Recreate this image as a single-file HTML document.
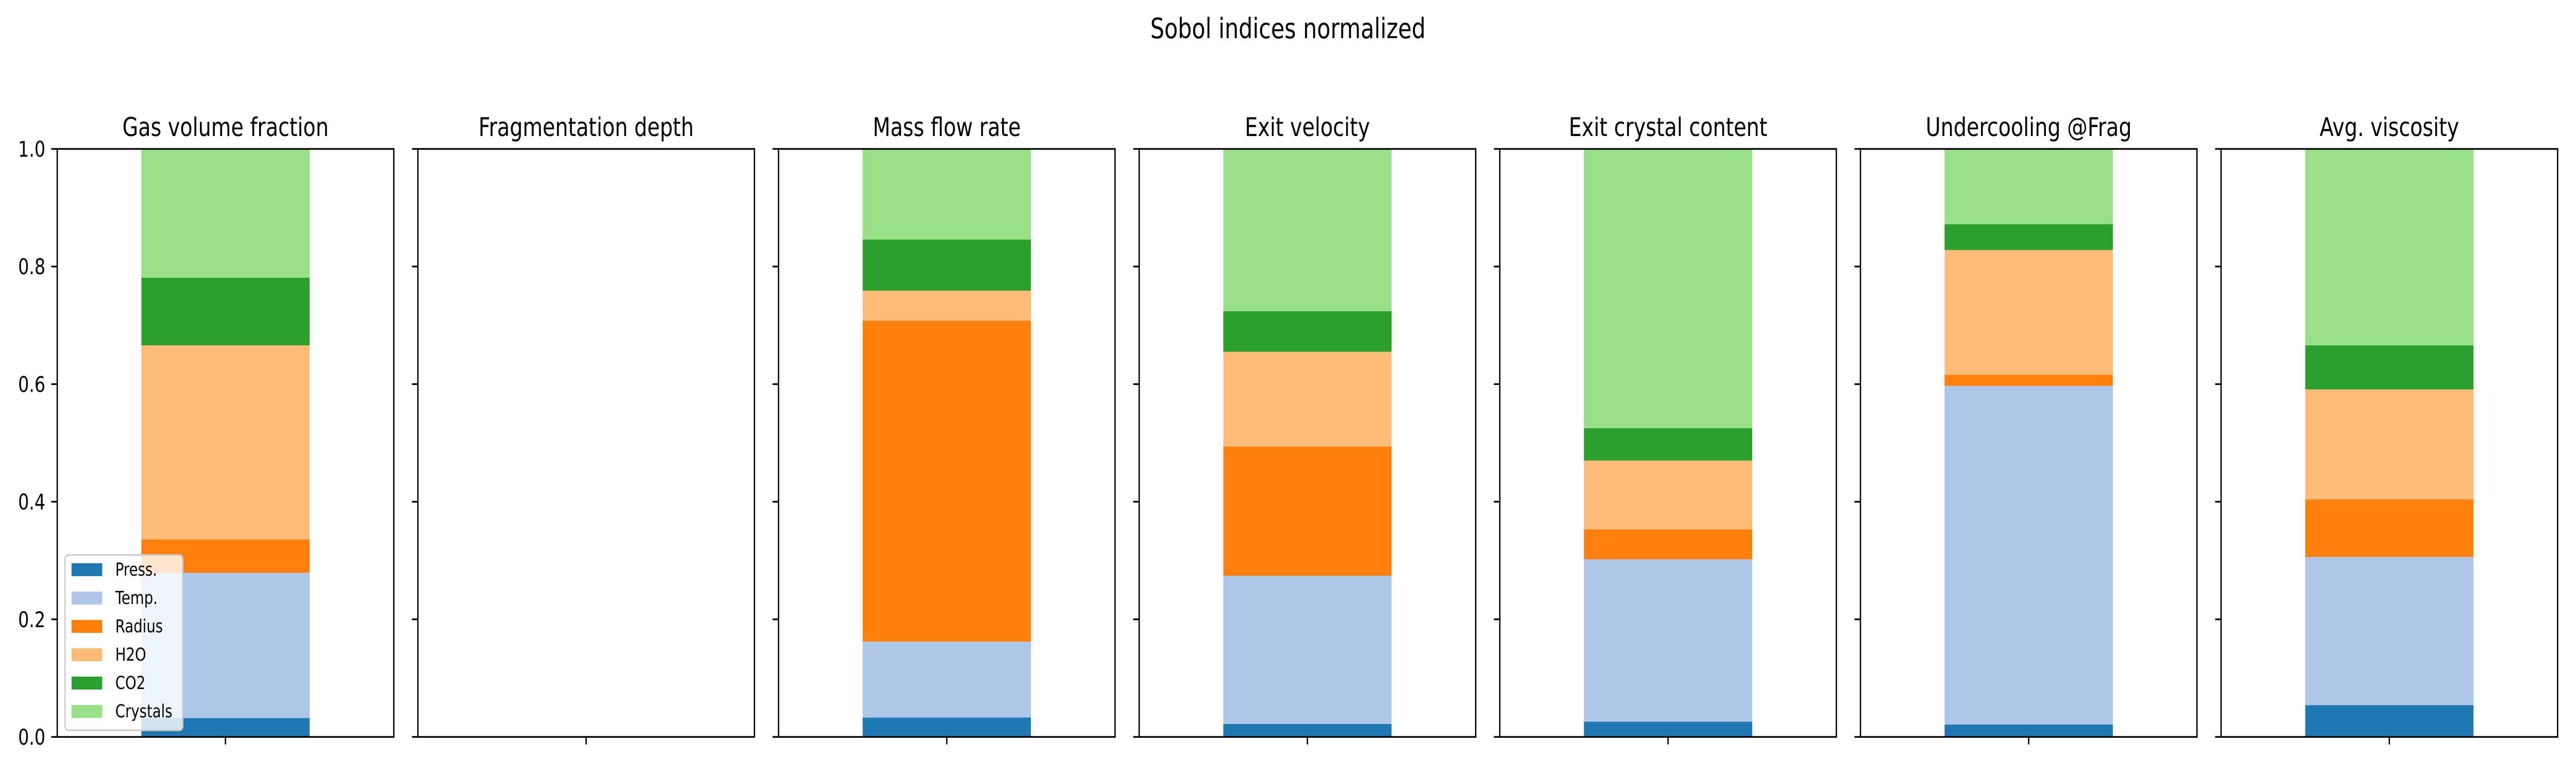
<!DOCTYPE html>
<html><head><meta charset="utf-8"><style>
html,body{margin:0;padding:0;background:#fff;overflow:hidden;width:100%;height:100%;}
svg{display:block;width:100vw;height:100vh;font-family:"DejaVu Sans","Liberation Sans",sans-serif;}
</style></head><body>
<svg id="chart" viewBox="0 0 6300 1500" preserveAspectRatio="none" xmlns="http://www.w3.org/2000/svg">
<rect x="0" y="0" width="6300" height="1500" fill="#fff"/>
<text x="3150" y="74" font-size="54" text-anchor="middle" fill="#000">Sobol indices normalized</text>
</svg>
<script>
const panelTitles = ["Gas volume fraction","Fragmentation depth","Mass flow rate","Exit velocity","Exit crystal content","Undercooling @Frag","Avg. viscosity"];
const seriesNames = ["Press.","Temp.","Radius","H2O","CO2","Crystals"];
const seriesColors = ["#1f77b4","#aec7e8","#ff7f0e","#ffbb78","#2ca02c","#98df8a"];
const pressVals    = [0.032, 0, 0.033, 0.022, 0.026, 0.021, 0.054];
const tempVals     = [0.247, 0, 0.129, 0.252, 0.276, 0.576, 0.252];
const radiusVals   = [0.057, 0, 0.546, 0.220, 0.051, 0.019, 0.098];
const h2oVals      = [0.330, 0, 0.051, 0.161, 0.117, 0.212, 0.187];
const co2Vals      = [0.115, 0, 0.087, 0.069, 0.055, 0.044, 0.075];
const crystalVals  = [0.219, 0, 0.154, 0.276, 0.475, 0.128, 0.334];
const yTicks = [0.0, 0.2, 0.4, 0.6, 0.8, 1.0];
const yTickLabels = ["0.0","0.2","0.4","0.6","0.8","1.0"];

const NS = "http://www.w3.org/2000/svg";
const svg = document.getElementById("chart");
const axLeft0 = 140, axW = 823, axStep = 882, axTop = 289, axBot = 1430;
const yMin = 0, yMax = 1;
function yScale(v){ return axBot - (v - yMin) / (yMax - yMin) * (axBot - axTop); }
function xCenter(i){ return axLeft0 + i * axStep + axW / 2; }
function mk(tag, attrs){ const e = document.createElementNS(NS, tag); for (const k in attrs) e.setAttribute(k, attrs[k]); svg.appendChild(e); return e; }

const allSeries = [pressVals, tempVals, radiusVals, h2oVals, co2Vals, crystalVals];
const barW = axW / 2;

panelTitles.forEach((title, i) => {
  const left = axLeft0 + i * axStep;
  let cum = 0;
  allSeries.forEach((vals, s) => {
    const v = vals[i];
    if (v > 0) {
      const y0 = yScale(cum), y1 = yScale(cum + v);
      const r = mk("rect", {x: xCenter(i) - barW / 2, y: y1, width: barW, height: y0 - y1, fill: seriesColors[s]});
      
      
    }
    cum += v;
  });
  const frame = mk("rect", {x: left, y: axTop, width: axW, height: axBot - axTop, fill: "none", stroke: "#000", "stroke-width": 3.3});
  
  
  yTicks.forEach((t, k) => {
    const tk = mk("line", {x1: left - 14.6, x2: left, y1: yScale(t), y2: yScale(t), stroke: "#000", "stroke-width": 3.3});
    
    
    if (i === 0) {
      const lb = mk("text", {x: left - 29, y: yScale(t) + 15, "font-size": 42, "text-anchor": "end", fill: "#000"});
      lb.textContent = yTickLabels[k];
      
      
    }
  });
  const xt = mk("line", {x1: xCenter(i), x2: xCenter(i), y1: axBot, y2: axBot + 14.6, stroke: "#000", "stroke-width": 3.3});
  
  
  const tt = mk("text", {x: xCenter(i), y: axTop - 25, "font-size": 50, "text-anchor": "middle", fill: "#000"});
  tt.textContent = title;
  
  
});

// legend
const lg = mk("rect", {x: 159, y: 1077, width: 288, height: 340, rx: 8, fill: "#fff", "fill-opacity": 0.8, stroke: "#ccc", "stroke-width": 3.3});


seriesNames.forEach((n, s) => {
  const cy = 1105 + s * 55;
  const p = mk("rect", {x: 175, y: cy - 12, width: 75, height: 25, fill: seriesColors[s]});
  
  
  const t = mk("text", {x: 282, y: cy + 12, "font-size": 34.7, fill: "#000"});
  t.textContent = n;
  
  
});
</script>
</body></html>
